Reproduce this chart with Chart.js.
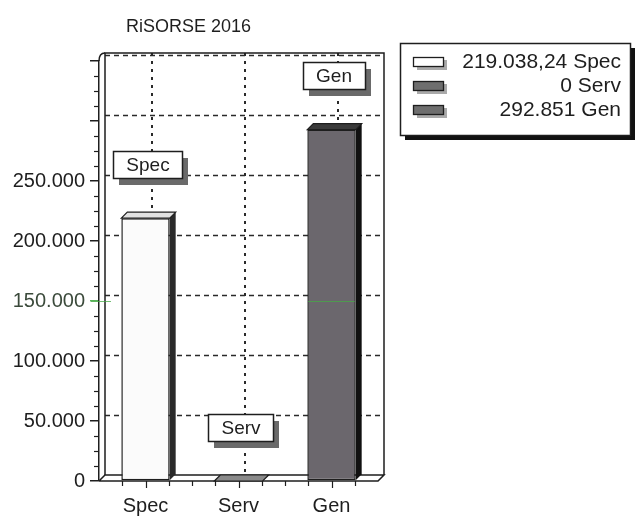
<!DOCTYPE html>
<html><head><meta charset="utf-8">
<script src="https://cdn.jsdelivr.net/npm/chart.js@4.4.1/dist/chart.umd.min.js"></script>
<style>html,body{margin:0;padding:0;background:#fff;} canvas{display:block;}</style>
</head><body>
<canvas id="c" width="635" height="516"></canvas>
<script>
const titleText = 'RiSORSE 2016';
const categories = ['Spec', 'Serv', 'Gen'];
const values = [219038.24, 0, 292851];
const legendTexts = ['219.038,24 Spec', '0 Serv', '292.851 Gen'];
const yTickValues = [0, 50000, 100000, 150000, 200000, 250000];
const yTickLabels = ['0', '50.000', '100.000', '150.000', '200.000', '250.000'];

const FONT = '"Liberation Sans", Arial, sans-serif';
const barColors = ['#fbfbfb', '#7a7a7a', '#6b676d'];
const topColors = ['#e2e2e2', '#8a8a8a', '#3a3a3a'];
const sideColors = ['#2a2a2a', '#333', '#111'];
const legendIconColors = ['#ffffff', '#6e6e6e', '#6e6e6e'];
const DX = 6, DY = -6;

const deco = {
  id: 'deco',
  beforeDraw(chart) {
    const ctx = chart.ctx;
    ctx.save();
    ctx.fillStyle = '#fff';
    ctx.fillRect(0, 0, chart.width, chart.height);
    ctx.fillStyle = '#1e1e1e';
    ctx.font = '18px ' + FONT;
    ctx.textAlign = 'left';
    ctx.textBaseline = 'middle';
    ctx.fillText(titleText, 126, 27);
    ctx.restore();
  },
  beforeDatasetsDraw(chart) {
    const ctx = chart.ctx, a = chart.chartArea, ys = chart.scales.y, xs = chart.scales.x;
    ctx.save();
    const backTop = a.top + DY - 2, backBottom = a.bottom + DY;
    const bl = a.left + DX, br = a.right + DX;
    ctx.strokeStyle = '#2a2a2a';
    ctx.lineWidth = 1.5;
    ctx.setLineDash([5, 4]);
    for (let v = 50000; v <= 350000; v += 50000) {
      const y = Math.round(ys.getPixelForValue(v) + DY) + 0.5;
      ctx.beginPath(); ctx.moveTo(bl, y); ctx.lineTo(br, y); ctx.stroke();
    }
    ctx.lineWidth = 2;
    ctx.setLineDash([3, 5]);
    for (let i = 0; i < categories.length; i++) {
      const x = Math.round(xs.getPixelForValue(i) + DX);
      ctx.beginPath(); ctx.moveTo(x, backTop); ctx.lineTo(x, backBottom); ctx.stroke();
    }
    ctx.setLineDash([]);
    ctx.lineWidth = 1.5;
    ctx.strokeStyle = '#1e1e1e';
    ctx.beginPath();
    ctx.moveTo(bl, backBottom); ctx.lineTo(bl, backTop); ctx.lineTo(br, backTop); ctx.lineTo(br, backBottom);
    ctx.stroke();
    ctx.beginPath(); ctx.moveTo(a.left, a.top); ctx.quadraticCurveTo(a.left, backTop, bl, backTop); ctx.stroke();
    ctx.beginPath();
    ctx.moveTo(a.left, a.bottom); ctx.lineTo(a.right, a.bottom); ctx.lineTo(br, backBottom); ctx.lineTo(bl, backBottom); ctx.lineTo(a.left, a.bottom);
    ctx.stroke();
    ctx.lineWidth = 1.2;
    for (let v = 0; v <= 350000; v += 12500) {
      if (v % 50000 === 0) continue;
      const y = Math.round(ys.getPixelForValue(v)) + 0.5;
      ctx.beginPath(); ctx.moveTo(a.left - 5, y); ctx.lineTo(a.left, y); ctx.stroke();
    }
    const cw = (a.right - a.left) / categories.length;
    for (let k = 1; k <= categories.length * 4 - 1; k++) {
      const x = Math.round(a.left + k * cw / 4) + 0.5;
      const len = (k % 4 === 2) ? 7 : 5;
      ctx.beginPath(); ctx.moveTo(x, a.bottom); ctx.lineTo(x, a.bottom + len); ctx.stroke();
    }
    ctx.restore();
  },
  afterDatasetsDraw(chart) {
    const ctx = chart.ctx, ys = chart.scales.y, a = chart.chartArea;
    const meta = chart.getDatasetMeta(0);
    ctx.save();
    meta.data.forEach((el, i) => {
      const p = el.getProps(['x', 'y', 'base', 'width'], true);
      const l = p.x - p.width / 2, r = p.x + p.width / 2;
      ctx.fillStyle = sideColors[i];
      ctx.beginPath();
      ctx.moveTo(r, p.y); ctx.lineTo(r + DX, p.y + DY); ctx.lineTo(r + DX, p.base + DY); ctx.lineTo(r, p.base);
      ctx.closePath(); ctx.fill();
      ctx.fillStyle = topColors[i];
      ctx.strokeStyle = '#1e1e1e';
      ctx.lineWidth = 1.2;
      ctx.beginPath();
      ctx.moveTo(l, p.y); ctx.lineTo(l + DX, p.y + DY); ctx.lineTo(r + DX, p.y + DY); ctx.lineTo(r, p.y);
      ctx.closePath(); ctx.fill(); ctx.stroke();
    });
    const gy = Math.round(ys.getPixelForValue(150000)) + 0.5;
    ctx.strokeStyle = 'rgba(70,170,70,0.75)';
    ctx.lineWidth = 1;
    ctx.beginPath(); ctx.moveTo(a.left - 8, gy); ctx.lineTo(a.left + 12, gy); ctx.stroke();
    const g = meta.data[2].getProps(['x', 'width'], true);
    ctx.beginPath(); ctx.moveTo(g.x - g.width / 2 + 1, gy); ctx.lineTo(g.x + g.width / 2 - 1, gy); ctx.stroke();
    ctx.font = '19px ' + FONT;
    ctx.textAlign = 'center';
    ctx.textBaseline = 'middle';
    meta.data.forEach((el, i) => {
      const p = el.getProps(['x', 'y'], true);
      const cx = p.x + 2, cy = p.y - 54;
      const w = Math.round(ctx.measureText(categories[i]).width + 26), h = 27;
      const x = Math.round(cx - w / 2), y = Math.round(cy - h / 2);
      ctx.fillStyle = '#6a6a6a';
      ctx.fillRect(x + 6, y + 7, w, h);
      ctx.fillStyle = '#fff';
      ctx.fillRect(x, y, w, h);
      ctx.strokeStyle = '#1e1e1e';
      ctx.lineWidth = 1.5;
      ctx.strokeRect(x + 0.5, y + 0.5, w, h);
      ctx.fillStyle = '#1e1e1e';
      ctx.fillText(categories[i], cx + 0.5, cy + 1.5);
    });
    ctx.restore();
  },
  afterDraw(chart) {
    const ctx = chart.ctx;
    ctx.save();
    const bx = 400, by = 43, bw = 230, bh = 92;
    ctx.fillStyle = '#111';
    ctx.fillRect(bx + 5, by + 5, bw, bh);
    ctx.fillStyle = '#fff';
    ctx.fillRect(bx, by, bw, bh);
    ctx.strokeStyle = '#1e1e1e';
    ctx.lineWidth = 1.5;
    ctx.strokeRect(bx + 0.5, by + 0.5, bw, bh);
    ctx.font = '21px ' + FONT;
    ctx.textAlign = 'right';
    ctx.textBaseline = 'middle';
    legendTexts.forEach((t, i) => {
      const cy = by + 18 + i * 24;
      ctx.fillStyle = '#aaa';
      ctx.fillRect(417, cy - 1, 30, 10);
      ctx.fillStyle = legendIconColors[i];
      ctx.fillRect(413, cy - 4, 30, 9);
      ctx.strokeStyle = '#1e1e1e';
      ctx.lineWidth = 1.3;
      ctx.strokeRect(413.5, cy - 3.5, 30, 9);
      ctx.fillStyle = '#1e1e1e';
      ctx.fillText(t, 621, cy + 1);
    });
    ctx.restore();
  }
};

new Chart(document.getElementById('c'), {
  type: 'bar',
  data: {
    labels: categories,
    datasets: [{
      data: values,
      backgroundColor: barColors,
      borderColor: '#1e1e1e',
      borderWidth: 1.5,
      borderSkipped: false,
      barPercentage: 0.52,
      categoryPercentage: 1.0
    }]
  },
  options: {
    responsive: false,
    animation: false,
    devicePixelRatio: 1,
    layout: { padding: { left: 0, top: 61, right: 257, bottom: 0 } },
    plugins: { legend: { display: false }, tooltip: { enabled: false }, title: { display: false } },
    scales: {
      x: {
        grid: { display: false },
        border: { display: false },
        ticks: { color: '#1e1e1e', font: { family: FONT, size: 20 }, padding: 5 },
        afterFit(s) { s.height = 35; }
      },
      y: {
        min: 0, max: 350000,
        grid: {
          drawOnChartArea: false, drawTicks: true, tickLength: 9,
          color: (c) => (c.tick && c.tick.value === 150000) ? 'rgba(70,170,70,0.9)' : '#1e1e1e',
          lineWidth: 1.5
        },
        border: { display: true, color: '#1e1e1e', width: 1.5 },
        ticks: {
          stepSize: 50000,
          padding: 5,
          color: (c) => (c.tick && c.tick.value === 150000) ? '#3b4a3b' : '#1e1e1e',
          font: { family: FONT, size: 20 },
          callback: (v) => { const i = yTickValues.indexOf(v); return i >= 0 ? yTickLabels[i] : ''; }
        },
        afterFit(s) { s.width = 99; }
      }
    }
  },
  plugins: [deco]
});
</script>
</body></html>
